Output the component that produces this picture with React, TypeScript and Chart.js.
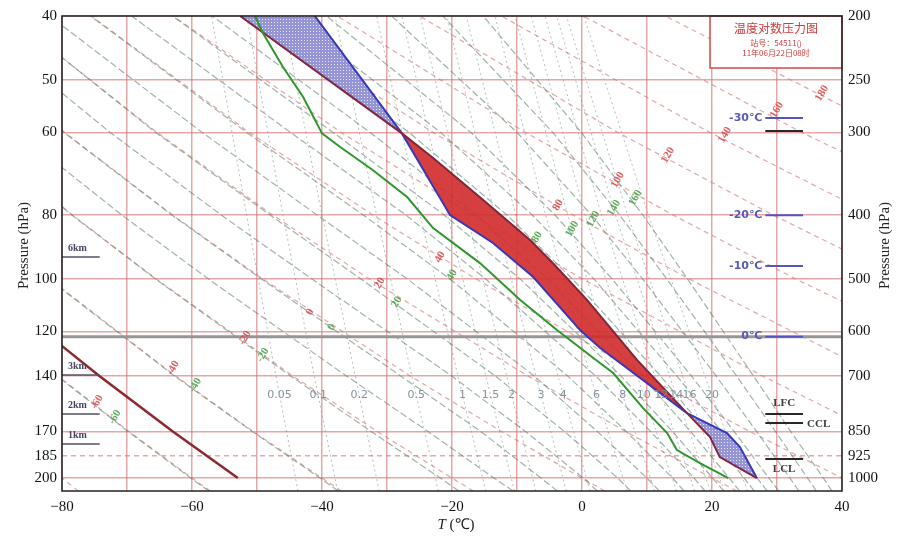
import React, { useEffect, useRef } from "react";
import { Chart, registerables } from "chart.js";

Chart.register(...registerables);

// ---------------- axes ----------------
const T_MIN = -80;
const T_MAX = 40;
const P_TOP = 200;
const P_BOTTOM = 1046;
const pressureTicks = [200, 250, 300, 400, 500, 600, 700, 850, 925, 1000];
const leftTickLabels = ["40", "50", "60", "80", "100", "120", "140", "170", "185", "200"];
const rightTickLabels = ["200", "250", "300", "400", "500", "600", "700", "850", "925", "1000"];

// ---------------- sounding ----------------
// environment temperature (blue)
const envPressure = [200, 301, 370.5, 400.2, 441, 496.4, 597.2, 635.8, 797.4, 854.8, 897.7, 1000];
const envTemp = [-41.1, -27.7, -22.3, -20.3, -13.7, -7.5, -0.3, 2.8, 16.15, 22.3, 24.3, 26.9];
// parcel curve (dark red)
const parcelPressure = [200, 301, 328, 379.7, 436.4, 472.8, 537.9, 663, 797.4, 866.8, 929.5, 1000];
const parcelTemp = [-52.6, -27.7, -22.9, -15.2, -8.0, -4.5, 0.8, 8.5, 16.15, 19.7, 21.2, 26.9];
// dew point (green)
const dewPressure = [200, 212.2, 238.9, 265.2, 301, 315.7, 341.9, 375.7, 418.6, 472.9, 537.9, 597.2, 662.9, 693.6, 783.6, 854.8, 907, 949.1, 1000];
const dewTemp = [-50.3, -49.1, -46.0, -42.9, -40.0, -37.2, -32.2, -26.9, -22.9, -15.7, -9.5, -3.85, 2.15, 4.8, 9.4, 13.1, 14.6, 18.15, 22.5];
// pressures where parcel and environment cross (EL, LFC)
const crossingPressures = [301, 797.4];

// highlighted dry adiabat (thick brown)
const brownPressure = [560, 700, 850, 1000];
const brownTemp = [-86.6, -74.3, -62.95, -52.95];

// 0 °C level (grey line)
const freezingPressure = 611;

// level markers on the right
const isothermLevelLabels = ["-30℃", "-20℃", "-10℃", "0℃"];
const isothermLevelPressure = [285.3, 400.2, 477.8, 611];
const markerTemps = [28.2, 34.0];
const parcelLevelLabels = ["", "LFC", "CCL", "LCL"];
const parcelLevelPressure = [298.6, 800, 825.7, 935.9];
// height markers on the left
const heightLabels = ["6km", "3km", "2km", "1km"];
const heightPressure = [463.1, 698.5, 800, 888.2];
const heightMarkerTemps = [-80, -74.2];

// ---------------- background diagram lines ----------------
const bgLevels = [1046, 1000, 850, 700, 500, 400, 300, 200];
// dry adiabats, θ (°C) -80 ... 220 step 20
const dryAdiabatTemps = [
  [-77.5, -80, -88.8, -98.7, -114.7, -124.5, -136.3, -151.2],
  [-57.2, -60, -69.7, -80.7, -98.3, -109.1, -122.1, -138.6],
  [-37.0, -40, -50.6, -62.6, -81.9, -93.75, -107.9, -126.0],
  [-16.7, -20, -31.5, -44.55, -65.5, -78.4, -93.7, -113.4],
  [3.5, 0, -12.4, -26.5, -49.1, -63.0, -79.6, -100.8],
  [23.8, 20, 6.7, -8.4, -32.7, -47.6, -65.4, -88.1],
  [44.05, 40, 25.8, 9.6, -16.3, -32.2, -51.2, -75.5],
  [64.3, 60, 44.9, 27.7, 0.1, -16.8, -37.05, -62.9],
  [84.6, 80, 64.0, 45.75, 16.5, -1.4, -22.9, -50.3],
  [104.8, 100, 83.05, 63.8, 32.9, 14.0, -8.7, -37.65],
  [125.1, 120, 102.1, 81.9, 49.3, 29.4, 5.5, -25.0],
  [145.35, 140, 121.2, 99.9, 65.7, 44.75, 19.65, -12.4],
  [165.6, 160, 140.3, 118.0, 82.1, 60.1, 33.8, 0.2],
  [185.9, 180, 159.4, 136.1, 98.5, 75.5, 48.0, 12.8],
  [206.1, 200, 178.5, 154.1, 114.9, 90.9, 62.2, 25.5],
  [226.4, 220, 197.6, 172.2, 131.3, 106.3, 76.35, 38.1],
];
// pseudo-adiabats, θse (°C) -60,-40,-20,-10,0,10,...,100,120,140,160
const moistAdiabatTemps = [
  [-57.4, -60.2, -69.85, -80.8, -98.45, -109.2, -122.2, -138.7],
  [-37.5, -40.3, -50.75, -62.75, -82.05, -93.9, -108.0, -126.1],
  [-18.95, -21.8, -32.45, -44.9, -65.6, -78.5, -93.8, -113.5],
  [-10.6, -13.55, -23.7, -36.3, -57.45, -70.8, -86.8, -107.1],
  [-3.8, -6.3, -15.6, -27.95, -49.3, -63.1, -79.7, -100.9],
  [2.35, 0.2, -8.7, -20.1, -41.55, -55.5, -72.6, -94.5],
  [7.5, 5.5, -2.7, -13.4, -34.0, -48.0, -65.6, -88.0],
  [11.9, 10.0, 2.35, -7.4, -26.85, -40.75, -58.45, -81.9],
  [15.7, 13.95, 6.8, -2.25, -20.3, -33.65, -51.6, -75.6],
  [18.9, 17.25, 10.55, 2.05, -14.8, -27.1, -44.85, -69.3],
  [21.8, 20.1, 13.9, 5.95, -9.5, -21.2, -38.3, -63.0],
  [24.25, 22.65, 16.7, 9.15, -5.3, -16.35, -32.6, -56.9],
  [26.5, 24.95, 19.15, 12.05, -1.45, -11.55, -26.6, -50.85],
  [28.5, 26.95, 21.45, 14.55, 1.85, -7.65, -21.75, -44.95],
  [30.25, 28.75, 23.4, 16.8, 4.65, -4.15, -17.1, -39.3],
  [33.35, 32.0, 26.85, 20.6, 9.35, 1.45, -10.0, -29.3],
  [36.05, 34.7, 29.75, 23.75, 13.05, 5.8, -4.5, -21.4],
  [38.45, 37.15, 32.1, 26.35, 16.25, 9.35, -0.1, -15.2],
];
// saturation mixing-ratio lines (g/kg)
const mixLevels = [1046, 700, 400, 200];
const mixRatioLabels = ["0.05", "0.1", "0.2", "0.5", "1", "1.5", "2", "3", "4", "6", "8", "10", "12", "14", "16", "20"];
const mixTemps = [
  [-43.7, -47.1, -51.6, -57.0],
  [-37.6, -41.2, -46.0, -51.6],
  [-31.2, -34.9, -40.0, -46.0],
  [-22.1, -26.2, -31.6, -38.0],
  [-14.8, -19.1, -24.9, -31.6],
  [-10.4, -14.8, -20.7, -27.7],
  [-7.1, -11.6, -17.7, -24.9],
  [-2.4, -7.1, -13.4, -20.8],
  [1.24, -3.7, -10.2, -17.8],
  [6.97, 1.25, -5.6, -13.4],
  [11.19, 5.27, -2.2, -10.3],
  [14.55, 8.48, 0.48, -7.8],
  [17.35, 11.15, 2.99, -5.7],
  [19.76, 13.45, 5.14, -3.9],
  [21.88, 15.46, 7.02, -2.4],
  [25.47, 18.88, 10.22, 0.26],
];
const mixLabelPressure = 749;

// adiabat labels
const dryLabelText = ["-60", "-40", "-20", "0", "20", "40", "80", "100", "120", "140", "160", "180"];
const dryLabelTemp = [-74.6, -62.9, -51.85, -41.85, -31.1, -21.85, -3.7, 5.5, 13.2, 22.0, 30.0, 36.9];
const dryLabelPressure = [767.4, 681.6, 613.9, 560.8, 507, 463.1, 386.3, 354, 324.7, 302.7, 277.5, 261.6];
const moistLabelText = ["-60", "-40", "-20", "0", "20", "40", "80", "100", "120", "140", "160"];
const moistLabelTemp = [-71.85, -59.5, -49.1, -38.5, -28.5, -20.0, -6.9, -1.5, 1.7, 4.9, 8.2];
const moistLabelPressure = [808.6, 723.3, 651.5, 591.0, 541.6, 493.0, 431.9, 420, 405.7, 390.4, 377];

// title box
const titleLines = ["温度对数压力图", "站号：54511()", "11年06月22日08时"];

const SERIF = "'Liberation Serif', 'Times New Roman', serif";

const overlayPlugin = {
  id: "overlay",
  beforeDraw(chart: any) {
    const { ctx, width, height } = chart;
    ctx.save();
    ctx.fillStyle = "#ffffff";
    ctx.fillRect(0, 0, width, height);
    ctx.restore();
  },
  afterDraw(chart: any) {
    const { ctx, chartArea: a, scales } = chart;
    const X = (t: number) => scales.x.getPixelForValue(t);
    const Y = (p: number) => scales.y.getPixelForValue(p);
    const rot = (text: string, x: number, y: number, ang: number) => {
      ctx.save();
      ctx.translate(x, y);
      ctx.rotate(ang);
      ctx.fillText(text, 0, 0);
      ctx.restore();
    };

    ctx.save();
    ctx.beginPath();
    ctx.rect(a.left, a.top, a.right - a.left, a.bottom - a.top);
    ctx.clip();
    ctx.textAlign = "center";
    ctx.textBaseline = "middle";

    // mixing ratio labels
    ctx.font = "11px 'DejaVu Sans'";
    ctx.fillStyle = "rgba(125,140,150,0.95)";
    const f = Math.log(mixLabelPressure / mixLevels[1]) / Math.log(mixLevels[0] / mixLevels[1]);
    mixTemps.forEach((row, i) => {
      const t = row[1] + (row[0] - row[1]) * f;
      ctx.fillText(mixRatioLabels[i], X(t), Y(mixLabelPressure));
    });

    // dry adiabat labels
    ctx.font = "bold 11px " + SERIF;
    ctx.fillStyle = "rgba(218,75,75,0.9)";
    dryLabelText.forEach((s, i) => rot(s, X(dryLabelTemp[i]), Y(dryLabelPressure[i]), -Math.PI / 3));
    // moist adiabat labels
    ctx.fillStyle = "rgba(75,160,75,0.9)";
    moistLabelText.forEach((s, i) => rot(s, X(moistLabelTemp[i]), Y(moistLabelPressure[i]), -Math.PI / 3));

    // height labels
    ctx.textAlign = "left";
    ctx.font = "bold 10px " + SERIF;
    ctx.fillStyle = "rgb(70,70,100)";
    heightLabels.forEach((s, i) => ctx.fillText(s, X(heightMarkerTemps[0]) + 6, Y(heightPressure[i]) - 9));

    // isotherm level labels
    ctx.textAlign = "right";
    ctx.font = "bold 11px 'DejaVu Sans'";
    ctx.fillStyle = "rgb(90,90,180)";
    isothermLevelLabels.forEach((s, i) => ctx.fillText(s, X(markerTemps[0]) - 3, Y(isothermLevelPressure[i])));

    // parcel levels
    ctx.font = "bold 11px " + SERIF;
    ctx.fillStyle = "rgb(60,60,60)";
    const mid = (X(markerTemps[0]) + X(markerTemps[1])) / 2;
    parcelLevelLabels.forEach((s, i) => {
      if (!s) return;
      const y = Y(parcelLevelPressure[i]);
      if (s === "LFC") { ctx.textAlign = "center"; ctx.fillText(s, mid, y - 11); }
      else if (s === "CCL") { ctx.textAlign = "left"; ctx.fillText(s, X(markerTemps[1]) + 4, y + 1); }
      else { ctx.textAlign = "center"; ctx.fillText(s, mid, y + 10); }
    });
    ctx.restore();

    // title box
    ctx.save();
    const bw = 132, bh = 52;
    const bx = a.right - bw, by = a.top;
    ctx.fillStyle = "#ffffff";
    ctx.fillRect(bx, by, bw, bh);
    ctx.strokeStyle = "rgb(215,70,70)";
    ctx.lineWidth = 1.5;
    ctx.strokeRect(bx, by, bw, bh);
    ctx.textAlign = "center";
    ctx.textBaseline = "middle";
    ctx.fillStyle = "rgb(210,60,60)";
    ctx.font = "12px 'Noto Sans CJK SC'";
    ctx.fillText(titleLines[0], bx + bw / 2, by + 12);
    ctx.font = "8px 'Noto Sans CJK SC'";
    ctx.fillText(titleLines[1], bx + bw / 2, by + 27);
    ctx.fillText(titleLines[2], bx + bw / 2, by + 37);
    ctx.restore();

    // frame
    ctx.save();
    ctx.strokeStyle = "#222";
    ctx.lineWidth = 1.5;
    ctx.strokeRect(a.left, a.top, a.right - a.left, a.bottom - a.top);
    ctx.restore();

    // axis titles
    ctx.save();
    ctx.fillStyle = "#222";
    ctx.textAlign = "center";
    ctx.textBaseline = "middle";
    ctx.font = "15px " + SERIF;
    const cy = (a.top + a.bottom) / 2 - 8;
    rot("Pressure (hPa)", a.left - 38, cy, -Math.PI / 2);
    rot("Pressure (hPa)", a.right + 43, cy, -Math.PI / 2);
    // x title: italic T + (℃)
    ctx.textAlign = "left";
    ctx.font = "italic 15px " + SERIF;
    const wT = ctx.measureText("T").width;
    ctx.font = "15px " + SERIF;
    const rest = " (℃)";
    const wR = ctx.measureText(rest).width;
    const sx = (a.left + a.right) / 2 + 4 - (wT + wR) / 2;
    const ty = a.bottom + 34;
    ctx.font = "italic 15px " + SERIF;
    ctx.fillText("T", sx, ty);
    ctx.font = "15px " + SERIF;
    ctx.fillText(rest, sx + wT, ty);
    ctx.restore();
  },
};

export default function App() {
  const ref = useRef<HTMLCanvasElement>(null);

  useEffect(() => {
    const canvas = ref.current;
    if (!canvas) return;
    const c2d = canvas.getContext("2d") as CanvasRenderingContext2D;

    // dotted blue pattern for negative area
    const pc = document.createElement("canvas");
    pc.width = 3;
    pc.height = 3;
    const g = pc.getContext("2d") as CanvasRenderingContext2D;
    g.fillStyle = "rgb(148,148,214)";
    g.fillRect(0, 0, 3, 3);
    g.fillStyle = "rgba(255,255,255,0.8)";
    g.fillRect(1, 1, 1, 1);
    const bluePattern = c2d.createPattern(pc, "repeat");

    const toPts = (P: number[], T: number[]) => P.map((p, i) => ({ x: T[i], y: p }));
    const datasets: any[] = [];
    const addLine = (data: any[], color: string, width: number, dash: number[], order: number) =>
      datasets.push({
        data,
        borderColor: color,
        backgroundColor: "rgba(0,0,0,0)",
        borderWidth: width,
        borderDash: dash,
        pointRadius: 0,
        pointHoverRadius: 0,
        fill: false,
        tension: 0,
        order,
      });

    dryAdiabatTemps.forEach((row) => addLine(toPts(bgLevels, row), "rgba(212,105,105,0.6)", 1.2, [5, 4], 9));
    moistAdiabatTemps.forEach((row) => addLine(toPts(bgLevels, row), "rgba(95,130,110,0.6)", 1.2, [7, 3], 8));
    mixTemps.forEach((row) => addLine(toPts(mixLevels, row), "rgba(135,145,145,0.6)", 1, [2, 3], 8));
    addLine(toPts(brownPressure, brownTemp), "rgb(140,40,45)", 2.5, [], 7);
    addLine(
      [
        { x: T_MIN, y: freezingPressure },
        { x: T_MAX, y: freezingPressure },
      ],
      "rgb(150,150,150)",
      3,
      [],
      6
    );

    // fills between environment and parcel curves
    const bounds = [envPressure[0], ...crossingPressures, envPressure[envPressure.length - 1]];
    for (let i = 0; i < bounds.length - 1; i++) {
      const lo = bounds[i];
      const hi = bounds[i + 1];
      const a = toPts(envPressure, envTemp).filter((pt) => pt.y >= lo && pt.y <= hi);
      const b = toPts(parcelPressure, parcelTemp).filter((pt) => pt.y >= lo && pt.y <= hi).reverse();
      datasets.push({
        data: [...a, ...b],
        fill: "shape",
        backgroundColor: i % 2 === 0 ? bluePattern : "rgba(210,42,42,0.9)",
        borderColor: "rgba(0,0,0,0)",
        borderWidth: 1,
        pointRadius: 0,
        tension: 0,
        order: 4,
      });
    }

    addLine(toPts(dewPressure, dewTemp), "rgb(45,150,45)", 2, [], 0);
    addLine(toPts(parcelPressure, parcelTemp), "rgb(130,38,58)", 2, [], 0);
    addLine(toPts(envPressure, envTemp), "rgb(55,55,185)", 2, [], 0);

    isothermLevelPressure.forEach((p) =>
      addLine([{ x: markerTemps[0], y: p }, { x: markerTemps[1], y: p }], "rgb(85,85,190)", 2, [], 1)
    );
    parcelLevelPressure.forEach((p) =>
      addLine([{ x: markerTemps[0], y: p }, { x: markerTemps[1], y: p }], "rgb(40,40,40)", 2, [], 1)
    );
    heightPressure.forEach((p) =>
      addLine([{ x: heightMarkerTemps[0], y: p }, { x: heightMarkerTemps[1], y: p }], "rgb(80,80,100)", 1.5, [], 1)
    );

    const gridRed = "rgba(212,110,110,0.6)";
    const tickFont = { family: SERIF, size: 15 };

    const chart = new Chart(canvas, {
      type: "line",
      data: { datasets },
      options: {
        responsive: false,
        animation: false,
        events: [],
        layout: { padding: { top: 16, left: 0, right: 0, bottom: 0 } },
        plugins: {
          legend: { display: false },
          tooltip: { enabled: false },
        },
        scales: {
          x: {
            type: "linear",
            min: T_MIN,
            max: T_MAX,
            position: "bottom",
            afterFit: (s: any) => {
              s.height = 50;
            },
            ticks: {
              stepSize: 10,
              autoSkip: false,
              maxRotation: 0,
              padding: 7,
              color: "#111",
              font: tickFont,
              callback: (v: any) => {
                const n = Number(v);
                if (n % 20 !== 0) return "";
                return n < 0 ? "\u2212" + Math.abs(n) : String(n);
              },
            },
            grid: { color: gridRed, lineWidth: 1.5, drawTicks: false },
            border: { display: false },
          },
          y: {
            type: "logarithmic",
            reverse: true,
            min: P_TOP,
            max: P_BOTTOM,
            position: "left",
            afterBuildTicks: (s: any) => {
              s.ticks = pressureTicks.map((v) => ({ value: v }));
            },
            afterFit: (s: any) => {
              s.width = 62;
            },
            ticks: {
              padding: 5,
              color: "#111",
              font: tickFont,
              autoSkip: false,
              callback: (_v: any, i: number) => leftTickLabels[i],
            },
            grid: { color: gridRed, lineWidth: 1.5, drawTicks: false },
            border: {
              display: false,
              dash: (ctx: any) => (ctx.tick && ctx.tick.value === 925 ? [5, 4] : []),
            },
          },
          y2: {
            type: "logarithmic",
            reverse: true,
            min: P_TOP,
            max: P_BOTTOM,
            position: "right",
            afterBuildTicks: (s: any) => {
              s.ticks = pressureTicks.map((v) => ({ value: v }));
            },
            afterFit: (s: any) => {
              s.width = 58;
            },
            ticks: {
              padding: 6,
              color: "#111",
              font: tickFont,
              autoSkip: false,
              callback: (_v: any, i: number) => rightTickLabels[i],
            },
            grid: { drawOnChartArea: false, drawTicks: false },
            border: { display: false },
          },
        },
      } as any,
      plugins: [overlayPlugin as any],
    });

    return () => chart.destroy();
  }, []);

  return (
    <div style={{ position: "absolute", left: 0, top: 0, width: 900, height: 541 }}>
      <canvas ref={ref} width={900} height={541} style={{ display: "block" }} />
    </div>
  );
}
